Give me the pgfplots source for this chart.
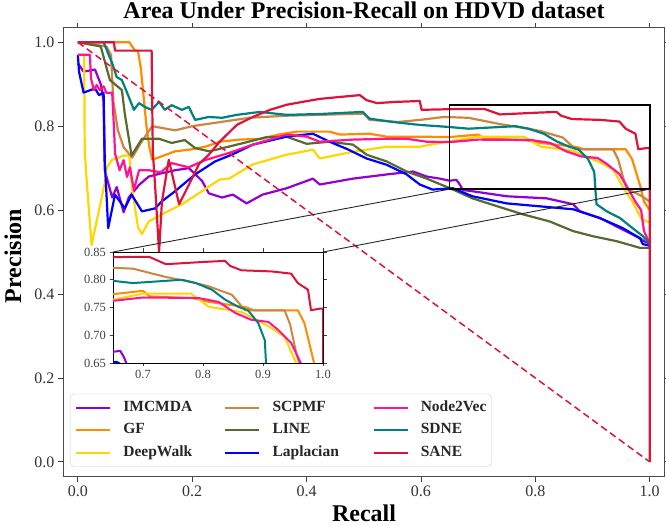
\documentclass[border=0pt]{standalone}
\usepackage{fontspec}
\setmainfont{Liberation Serif}
\usepackage{pgfplots}
\usepackage{pgfplotstable}
\pgfplotsset{compat=1.18}

\definecolor{cIMC}{RGB}{148,0,211}
\definecolor{cGF}{RGB}{255,140,0}
\definecolor{cDW}{RGB}{255,215,0}
\definecolor{cSC}{RGB}{205,133,63}
\definecolor{cLINE}{RGB}{85,107,47}
\definecolor{cLap}{RGB}{0,0,255}
\definecolor{cNV}{RGB}{255,20,147}
\definecolor{cSDNE}{RGB}{0,128,128}
\definecolor{cSANE}{RGB}{220,20,60}

\pgfplotstableread[row sep=\\]{x y\\
0 0.95\\ 0.01 0.93\\ 0.03 0.935\\ 0.04 0.90\\ 0.045 0.86\\ 0.047 0.695\\ 0.06 0.63\\ 0.068 0.655\\ 0.08 0.595\\ 0.089 0.63\\ 0.107 0.66\\ 0.124 0.68\\ 0.147 0.688\\ 0.17 0.695\\ 0.194 0.70\\ 0.217 0.67\\ 0.229 0.64\\ 0.252 0.63\\ 0.271 0.637\\ 0.295 0.616\\ 0.323 0.637\\ 0.365 0.652\\ 0.411 0.675\\ 0.423 0.661\\ 0.481 0.675\\ 0.54 0.685\\ 0.586 0.692\\ 0.61 0.68\\ 0.633 0.675\\ 0.65 0.670\\ 0.662 0.672\\ 0.668 0.661\\ 0.673 0.648\\ 0.69 0.645\\ 0.75 0.633\\ 0.82 0.628\\ 0.866 0.614\\ 0.878 0.597\\ 0.913 0.581\\ 0.948 0.557\\ 0.983 0.533\\ 0.99 0.526\\ 1.0 0.52\\
}\tIMC

\pgfplotstableread[row sep=\\]{x y\\
0 1.0\\ 0.09 1.0\\ 0.10 0.98\\ 0.105 0.98\\ 0.11 0.94\\ 0.115 0.87\\ 0.12 0.80\\ 0.125 0.75\\ 0.13 0.72\\ 0.15 0.73\\ 0.17 0.74\\ 0.2 0.745\\ 0.225 0.752\\ 0.248 0.763\\ 0.283 0.768\\ 0.323 0.77\\ 0.35 0.78\\ 0.383 0.787\\ 0.44 0.787\\ 0.458 0.78\\ 0.51 0.782\\ 0.54 0.775\\ 0.598 0.775\\ 0.65 0.774\\ 0.70 0.78\\ 0.711 0.77\\ 0.782 0.767\\ 0.81 0.76\\ 0.87 0.751\\ 0.885 0.745\\ 0.958 0.745\\ 0.969 0.722\\ 0.98 0.673\\ 0.985 0.65\\ 0.99 0.62\\ 1.0 0.60\\
}\tGF

\pgfplotstableread[row sep=\\]{x y\\
0 0.97\\ 0.011 0.97\\ 0.012 0.74\\ 0.016 0.66\\ 0.024 0.517\\ 0.037 0.60\\ 0.047 0.664\\ 0.05 0.70\\ 0.06 0.72\\ 0.08 0.73\\ 0.09 0.73\\ 0.095 0.65\\ 0.105 0.56\\ 0.112 0.543\\ 0.124 0.573\\ 0.147 0.59\\ 0.182 0.614\\ 0.217 0.645\\ 0.248 0.673\\ 0.264 0.675\\ 0.306 0.709\\ 0.365 0.732\\ 0.411 0.744\\ 0.423 0.723\\ 0.481 0.739\\ 0.54 0.751\\ 0.598 0.751\\ 0.645 0.763\\ 0.70 0.775\\ 0.78 0.775\\ 0.81 0.751\\ 0.864 0.742\\ 0.914 0.713\\ 0.936 0.697\\ 0.955 0.65\\ 0.97 0.62\\ 0.985 0.58\\ 1.0 0.57\\
}\tDW

\pgfplotstableread[row sep=\\]{x y\\
0 1.0\\ 0.05 0.99\\ 0.058 0.97\\ 0.062 0.86\\ 0.07 0.79\\ 0.08 0.75\\ 0.095 0.725\\ 0.11 0.76\\ 0.13 0.80\\ 0.15 0.795\\ 0.17 0.79\\ 0.2 0.80\\ 0.25 0.81\\ 0.3 0.82\\ 0.365 0.825\\ 0.45 0.828\\ 0.5 0.83\\ 0.51 0.815\\ 0.56 0.81\\ 0.598 0.815\\ 0.64 0.822\\ 0.683 0.82\\ 0.738 0.805\\ 0.788 0.794\\ 0.81 0.788\\ 0.848 0.773\\ 0.87 0.745\\ 0.936 0.745\\ 0.945 0.72\\ 0.955 0.67\\ 0.96 0.65\\ 0.977 0.64\\ 0.99 0.63\\ 1.0 0.62\\
}\tSC

\pgfplotstableread[row sep=\\]{x y\\
0 1.0\\ 0.04 0.99\\ 0.042 0.98\\ 0.056 0.91\\ 0.077 0.886\\ 0.082 0.83\\ 0.094 0.73\\ 0.112 0.77\\ 0.142 0.77\\ 0.164 0.76\\ 0.187 0.767\\ 0.205 0.748\\ 0.23 0.74\\ 0.26 0.75\\ 0.29 0.76\\ 0.33 0.774\\ 0.365 0.775\\ 0.40 0.758\\ 0.44 0.763\\ 0.481 0.756\\ 0.505 0.732\\ 0.54 0.716\\ 0.575 0.692\\ 0.61 0.675\\ 0.656 0.649\\ 0.69 0.628\\ 0.75 0.602\\ 0.778 0.59\\ 0.825 0.573\\ 0.866 0.55\\ 0.90 0.538\\ 0.942 0.526\\ 0.983 0.51\\ 1.0 0.51\\
}\tLINE

\pgfplotstableread[row sep=\\]{x y\\
0 0.97\\ 0.002 0.93\\ 0.01 0.88\\ 0.03 0.89\\ 0.037 0.874\\ 0.045 0.88\\ 0.047 0.72\\ 0.053 0.557\\ 0.065 0.637\\ 0.082 0.604\\ 0.094 0.637\\ 0.112 0.597\\ 0.135 0.604\\ 0.147 0.621\\ 0.17 0.645\\ 0.205 0.685\\ 0.24 0.716\\ 0.269 0.732\\ 0.306 0.756\\ 0.365 0.775\\ 0.411 0.782\\ 0.44 0.763\\ 0.47 0.746\\ 0.505 0.723\\ 0.54 0.708\\ 0.575 0.685\\ 0.598 0.661\\ 0.62 0.649\\ 0.656 0.652\\ 0.69 0.633\\ 0.75 0.616\\ 0.808 0.609\\ 0.866 0.602\\ 0.913 0.581\\ 0.953 0.557\\ 0.983 0.533\\ 0.988 0.519\\ 1.0 0.515\\
}\tLap

\pgfplotstableread[row sep=\\]{x y\\
0 0.97\\ 0.021 0.97\\ 0.023 0.914\\ 0.028 0.886\\ 0.033 0.898\\ 0.038 0.886\\ 0.045 0.895\\ 0.05 0.879\\ 0.06 0.88\\ 0.063 0.80\\ 0.065 0.735\\ 0.073 0.695\\ 0.08 0.719\\ 0.086 0.679\\ 0.091 0.702\\ 0.098 0.648\\ 0.107 0.695\\ 0.124 0.695\\ 0.145 0.69\\ 0.164 0.712\\ 0.194 0.702\\ 0.222 0.719\\ 0.264 0.736\\ 0.306 0.756\\ 0.365 0.78\\ 0.40 0.775\\ 0.423 0.763\\ 0.481 0.768\\ 0.54 0.77\\ 0.575 0.77\\ 0.61 0.763\\ 0.65 0.762\\ 0.70 0.768\\ 0.793 0.767\\ 0.826 0.76\\ 0.854 0.74\\ 0.88 0.728\\ 0.909 0.724\\ 0.925 0.71\\ 0.947 0.686\\ 0.963 0.65\\ 0.975 0.62\\ 0.985 0.60\\ 0.99 0.55\\ 1.0 0.52\\
}\tNV

\pgfplotstableread[row sep=\\]{x y\\
0 1.0\\ 0.045 1.0\\ 0.06 0.95\\ 0.068 0.917\\ 0.077 0.91\\ 0.089 0.87\\ 0.098 0.839\\ 0.107 0.855\\ 0.117 0.846\\ 0.129 0.839\\ 0.142 0.858\\ 0.152 0.839\\ 0.164 0.85\\ 0.182 0.839\\ 0.194 0.846\\ 0.205 0.815\\ 0.229 0.822\\ 0.252 0.82\\ 0.278 0.827\\ 0.318 0.834\\ 0.365 0.827\\ 0.423 0.829\\ 0.498 0.834\\ 0.51 0.818\\ 0.551 0.81\\ 0.598 0.803\\ 0.65 0.798\\ 0.683 0.794\\ 0.765 0.80\\ 0.788 0.794\\ 0.815 0.782\\ 0.837 0.764\\ 0.859 0.751\\ 0.875 0.745\\ 0.892 0.722\\ 0.903 0.691\\ 0.905 0.65\\ 0.907 0.614\\ 0.925 0.597\\ 0.948 0.581\\ 0.97 0.557\\ 0.988 0.538\\ 1.0 0.52\\
}\tSDNE

\pgfplotstableread[row sep=\\]{x y\\
0 1.0\\ 0.063 1.0\\ 0.065 0.98\\ 0.129 0.98\\ 0.131 0.74\\ 0.135 0.66\\ 0.142 0.50\\ 0.147 0.62\\ 0.159 0.72\\ 0.177 0.614\\ 0.194 0.66\\ 0.212 0.71\\ 0.229 0.732\\ 0.248 0.763\\ 0.278 0.803\\ 0.306 0.822\\ 0.336 0.839\\ 0.365 0.851\\ 0.393 0.858\\ 0.423 0.865\\ 0.453 0.869\\ 0.493 0.874\\ 0.505 0.862\\ 0.523 0.855\\ 0.558 0.858\\ 0.598 0.86\\ 0.601 0.839\\ 0.668 0.841\\ 0.711 0.841\\ 0.738 0.828\\ 0.80 0.832\\ 0.837 0.834\\ 0.845 0.825\\ 0.864 0.817\\ 0.914 0.815\\ 0.947 0.811\\ 0.958 0.794\\ 0.975 0.782\\ 0.98 0.745\\ 0.995 0.748\\ 1.0 0.748\\ 1.0 0.0\\
}\tSANE

\begin{document}
\begin{tikzpicture}
\useasboundingbox (0,0) rectangle (666pt,526pt);
\begin{axis}[
  at={(63pt,49pt)}, anchor=south west,
  scale only axis, width=601pt, height=449pt,
  xmin=-0.026, xmax=1.025, ymin=-0.036, ymax=1.034,
  xtick={0,0.2,0.4,0.6,0.8,1.0}, ytick={0,0.2,0.4,0.6,0.8,1.0},
  tick align=outside, major tick length=5pt,
  tick style={black!75, line width=0.8pt},
  axis line style={black!70, line width=1pt},
  ticklabel style={font=\fontsize{16}{19}\selectfont, text=black!80},
  /pgf/number format/assume math mode=true,
  xticklabel style={/pgf/number format/.cd, fixed, fixed zerofill, precision=1},
  yticklabel style={/pgf/number format/.cd, fixed, fixed zerofill, precision=1},
  every axis plot/.append style={line width=2.2pt, line join=round},
  legend image code/.code={\draw[#1, line width=2.2pt] (0pt,0pt) -- (34pt,0pt); \path (46pt,0pt);},
  legend columns=3,
  legend cell align=left,
  legend style={at={(0.0116,0.023)}, anchor=south west,
    draw=black!20, rounded corners=4pt, fill=white,
    font=\bfseries\fontsize{15.5}{18}\selectfont, text=black!85,
    inner xsep=5pt, inner ysep=2.5pt, row sep=0pt, column sep=0pt,
    nodes={inner xsep=0pt, inner ysep=4pt, text height=11pt, text depth=3.5pt}},
]
\addplot[cIMC, forget plot] table[x=x,y=y]{\tIMC};
\addplot[cGF, forget plot] table[x=x,y=y]{\tGF};
\addplot[cDW, forget plot] table[x=x,y=y]{\tDW};
\addplot[cSC, forget plot] table[x=x,y=y]{\tSC};
\addplot[cLINE, forget plot] table[x=x,y=y]{\tLINE};
\addplot[cLap, forget plot] table[x=x,y=y]{\tLap};
\addplot[cNV, forget plot] table[x=x,y=y]{\tNV};
\addplot[cSDNE, forget plot] table[x=x,y=y]{\tSDNE};
\addplot[cSANE, forget plot] table[x=x,y=y]{\tSANE};
\addplot[cSANE, line width=1.5pt, dash pattern=on 7pt off 4pt, forget plot] coordinates {(0,1) (1,0)};
\addlegendimage{cIMC} \addlegendentry{\makebox[101pt][l]{IMCMDA}}
\addlegendimage{cSC} \addlegendentry{\makebox[100pt][l]{SCPMF}}
\addlegendimage{cNV} \addlegendentry{Node2Vec}
\addlegendimage{cGF} \addlegendentry{\makebox[101pt][l]{GF}}
\addlegendimage{cLINE} \addlegendentry{\makebox[100pt][l]{LINE}}
\addlegendimage{cSDNE} \addlegendentry{SDNE}
\addlegendimage{cDW} \addlegendentry{\makebox[101pt][l]{DeepWalk}}
\addlegendimage{cLap} \addlegendentry{\makebox[100pt][l]{Laplacian}}
\addlegendimage{cSANE} \addlegendentry{SANE}
\draw[black, line width=1.6pt] (axis cs:0.65,0.65) rectangle (axis cs:1.0,0.85);
\coordinate (rbl) at (axis cs:0.65,0.65);
\coordinate (rbr) at (axis cs:1.0,0.65);
\end{axis}
\begin{axis}[
  at={(113pt,163pt)}, anchor=south west,
  scale only axis, width=210pt, height=111pt,
  xmin=0.65, xmax=1.0, ymin=0.65, ymax=0.85,
  xtick={0.7,0.8,0.9,1.0}, ytick={0.65,0.70,0.75,0.80,0.85},
  axis background/.style={fill=white},
  tick align=outside, major tick length=3.5pt,
  tick style={black!75, line width=0.7pt},
  axis line style={black, line width=0.8pt},
  ticklabel style={font=\fontsize{12.5}{15}\selectfont, text=black!75},
  /pgf/number format/assume math mode=true,
  xticklabel style={/pgf/number format/.cd, fixed, fixed zerofill, precision=1},
  yticklabel style={/pgf/number format/.cd, fixed, fixed zerofill, precision=2},
  every axis plot/.append style={line width=2pt, line join=round},
]
\addplot[cIMC] table[x=x,y=y]{\tIMC};
\addplot[cGF] table[x=x,y=y]{\tGF};
\addplot[cDW] table[x=x,y=y]{\tDW};
\addplot[cSC] table[x=x,y=y]{\tSC};
\addplot[cLINE] table[x=x,y=y]{\tLINE};
\addplot[cLap] table[x=x,y=y]{\tLap};
\addplot[cNV] table[x=x,y=y]{\tNV};
\addplot[cSDNE] table[x=x,y=y]{\tSDNE};
\addplot[cSANE] table[x=x,y=y]{\tSANE};
\coordinate (itl) at (rel axis cs:0,1);
\coordinate (itr) at (rel axis cs:1,1);
\end{axis}
\draw[black!85, line width=0.9pt] (rbl) -- (itl);
\draw[black!85, line width=0.9pt] (rbr) -- (itr);
\node[font=\bfseries\fontsize{24}{28}\selectfont, anchor=base] at (364pt,507pt) {Area Under Precision-Recall on HDVD dataset};
\node[font=\bfseries\fontsize{24}{28}\selectfont, anchor=base] at (364pt,4pt) {Recall};
\node[font=\bfseries\fontsize{24}{28}\selectfont, anchor=base, rotate=90] at (21pt,270pt) {Precision};
\end{tikzpicture}
\end{document}
